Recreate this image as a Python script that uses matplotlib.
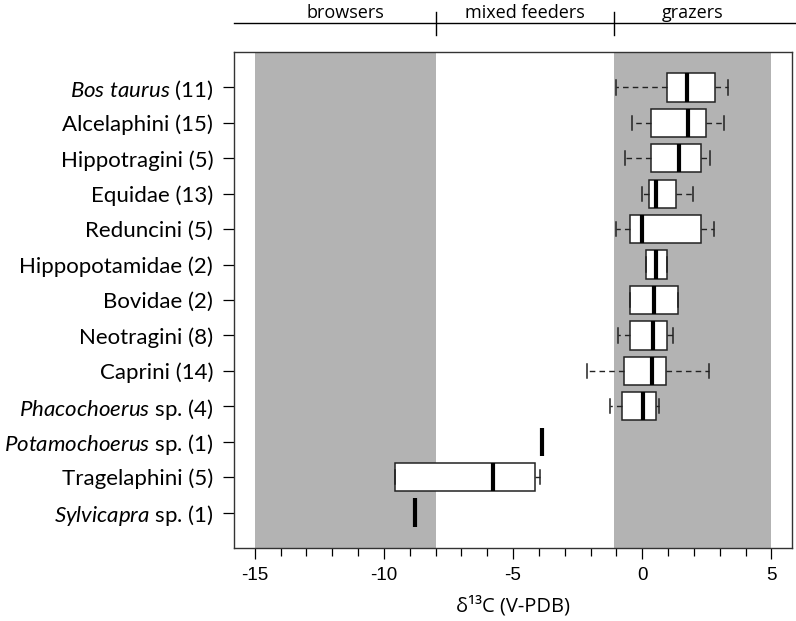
import numpy as np
import matplotlib
matplotlib.use("Agg")
import matplotlib.pyplot as plt
from matplotlib.ticker import MultipleLocator

plt.rcParams['mathtext.fontset'] = 'custom'
plt.rcParams['mathtext.it'] = 'Lato:italic'
plt.rcParams['mathtext.rm'] = 'Lato'
plt.rcParams['axes.unicode_minus'] = False

# rows, top to bottom
labels = [r"$\mathit{Bos\ taurus}$ (11)", "Alcelaphini (15)", "Hippotragini (5)",
          "Equidae (13)", "Reduncini (5)", "Hippopotamidae (2)", "Bovidae (2)",
          "Neotragini (8)", "Caprini (14)", r"$\mathit{Phacochoerus}$ sp. (4)",
          r"$\mathit{Potamochoerus}$ sp. (1)", "Tragelaphini (5)",
          r"$\mathit{Sylvicapra}$ sp. (1)"]
whislo = [-1.01, -0.40, -0.65, 0.01, -1.00, 0.14, -0.48, -0.94, -2.13, -1.23, -3.87, -9.58, -8.80]
q1     = [0.97, 0.36, 0.33, 0.27, -0.47, 0.14, -0.48, -0.47, -0.70, -0.78, -3.87, -9.58, -8.80]
med    = [1.72, 1.77, 1.41, 0.54, -0.02, 0.54, 0.45, 0.43, 0.39, 0.03, -3.87, -5.76, -8.80]
q3     = [2.80, 2.46, 2.29, 1.32, 2.28, 0.95, 1.40, 0.97, 0.91, 0.52, -3.87, -4.13, -8.80]
whishi = [3.34, 3.15, 2.64, 1.98, 2.78, 0.95, 1.40, 1.18, 2.59, 0.65, -3.87, -3.95, -8.80]

# diet zones (d13C boundaries)
zone_names = ["browsers", "mixed feeders", "grazers"]
zone_edges = [-15, -8, -1.1, 5]

fig = plt.figure(figsize=(7.96, 6.21), dpi=100)
ax = fig.add_axes([234 / 796, 1 - 548 / 621, 558 / 796, 496 / 621])

# shaded browser / grazer bands
ax.axvspan(zone_edges[0], zone_edges[1], color="#b3b3b3", lw=0, zorder=0)
ax.axvspan(zone_edges[2], zone_edges[3], color="#b3b3b3", lw=0, zorder=0)

n = len(labels)
pos = np.arange(n, 0, -1)
stats = []
for i in range(n):
    stats.append({'whislo': whislo[i], 'q1': q1[i], 'med': med[i],
                  'q3': q3[i], 'whishi': whishi[i], 'fliers': []})

ax.bxp(stats, positions=pos, vert=False, widths=0.8, capwidths=0.4,
       patch_artist=True, showfliers=False,
       boxprops=dict(facecolor="white", edgecolor="#222222", lw=1.1),
       medianprops=dict(color="black", lw=3, solid_capstyle="butt"),
       whiskerprops=dict(color="#222222", lw=1.0, ls=(0, (4, 3))),
       capprops=dict(color="#222222", lw=1.1))

ax.set_xlim(-15.8, 5.8)
ax.set_ylim(0, 14)
ax.set_yticks(pos)
ax.set_yticklabels(labels, fontfamily="Lato", fontsize=16)
ax.tick_params(axis="y", length=8, width=0.9, pad=7)

ax.xaxis.set_major_locator(MultipleLocator(5))
ax.xaxis.set_minor_locator(MultipleLocator(1))
ax.set_xticks([-15, -10, -5, 0, 5])
for t in ax.get_xticklabels():
    t.set_fontfamily("Liberation Sans")
    t.set_fontsize(13.5)
ax.tick_params(axis="x", which="major", length=8, width=0.9, pad=6)
ax.tick_params(axis="x", which="minor", length=6, width=0.9)
for s in ax.spines.values():
    s.set_linewidth(1.0)
    s.set_color("#333333")

ax.set_xlabel("\u03b4\u00b9\u00b3C (V-PDB)", fontfamily="Open Sans", fontsize=14.5, labelpad=8)

# diet categories above the plot
xtop = 1 - 23 / 621
fig.add_artist(plt.Line2D([234 / 796, 1.0], [xtop, xtop], color="black", lw=1.0))
for e in zone_edges[1:3]:
    xf = fig.transFigure.inverted().transform(ax.transData.transform((e, 0)))[0]
    fig.add_artist(plt.Line2D([xf, xf], [1 - 12 / 621, 1 - 35 / 621], color="black", lw=1.0))
for i, name in enumerate(zone_names):
    c = (zone_edges[i] + zone_edges[i + 1]) / 2
    xf = fig.transFigure.inverted().transform(ax.transData.transform((c, 0)))[0]
    fig.text(xf, 1 - 13 / 621, name, ha="center", va="center",
             fontfamily="Open Sans", fontsize=13)

fig.savefig("out.png", dpi=100)
